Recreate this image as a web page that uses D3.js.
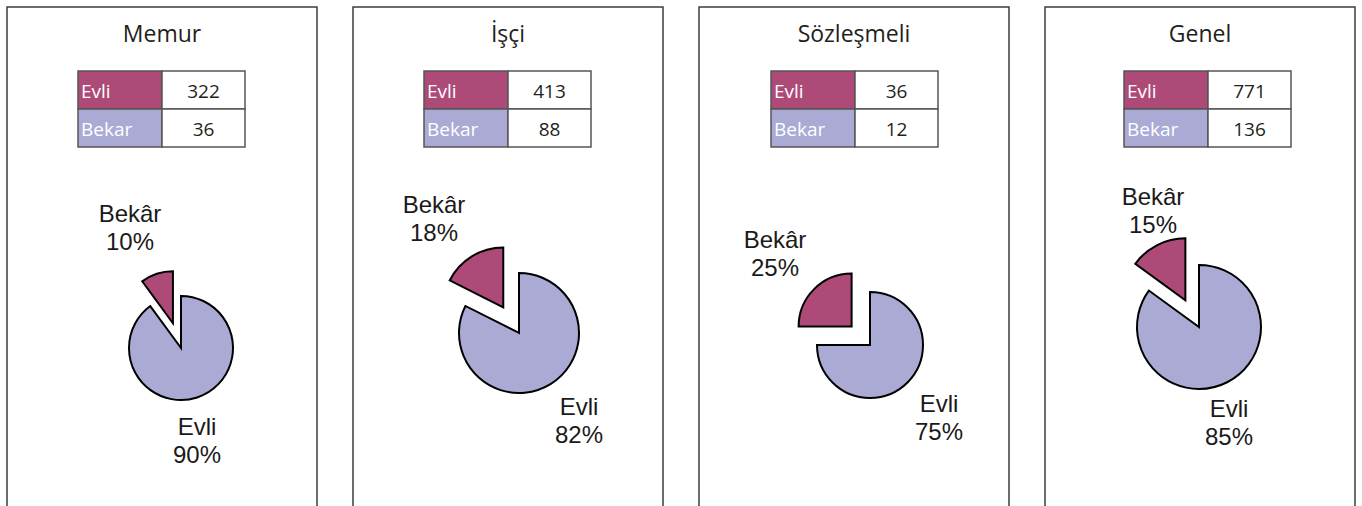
<!DOCTYPE html>
<html>
<head>
<meta charset="utf-8">
<script src="https://cdn.jsdelivr.net/npm/d3@7"></script>
<style>
  body { margin: 0; background: #fff; }
  svg { display: block; }
</style>
</head>
<body>
<svg id="chart" width="1362" height="506"></svg>
<script>
// data
var groups = ["Memur", "İşçi", "Sözleşmeli", "Genel"];
var evli = [322, 413, 36, 771];
var bekar = [36, 88, 12, 136];
var tableLabels = ["Evli", "Bekar"];
var pieLabels = ["Evli", "Bekâr"];

// layout, per panel
var panelX = [7, 353, 699, 1045];
var tableX = [71, 71, 72, 79];
var pieCx = [174, 166, 171, 154];
var pieCy = [348, 333, 345, 327];
var pieR = [52, 60, 53, 62];
var explode = [26, 30, 26, 30];
// label anchors relative to pie centre: [bekar dx, dy, evli dx, dy]
var labelOff = [
  [-51, -126, 16, 87],
  [-85, -120, 60, 82],
  [-95, -97, 69, 67],
  [-46, -122, 30, 90]
];

var colors = { "Evli": "#ad4a78", "Bekar": "#abaad5" };
var sliceColors = ["#abaad5", "#ad4a78"]; // Evli, Bekar in the pie

var svg = d3.select("#chart");
var pie = d3.pie().sort(null).value(function (d) { return d; });

groups.forEach(function (name, i) {
  var g = svg.append("g").attr("transform", "translate(" + panelX[i] + ",0)");

  // panel frame, open at the bottom
  g.append("rect")
    .attr("x", 0).attr("y", 7)
    .attr("width", 310).attr("height", 540)
    .attr("fill", "none")
    .attr("stroke", "#3c3c3c")
    .attr("stroke-width", 1.5);

  g.append("text")
    .attr("x", 155).attr("y", 42)
    .attr("text-anchor", "middle")
    .style("font-family", "'Open Sans', sans-serif")
    .style("font-size", "23px")
    .attr("fill", "#231f20")
    .text(name);

  // small table
  var rows = [evli[i], bekar[i]];
  var tx = tableX[i], ty = 71, cw = 84, rh = 38;
  rows.forEach(function (v, j) {
    var key = tableLabels[j];
    g.append("rect")
      .attr("x", tx).attr("y", ty + j * rh)
      .attr("width", cw).attr("height", rh)
      .attr("fill", colors[key])
      .attr("stroke", "#555").attr("stroke-width", 1.5);
    g.append("rect")
      .attr("x", tx + cw).attr("y", ty + j * rh)
      .attr("width", cw - 1).attr("height", rh)
      .attr("fill", "#fff")
      .attr("stroke", "#555").attr("stroke-width", 1.5);
    g.append("text")
      .attr("x", tx + 3).attr("y", ty + j * rh + 27)
      .style("font-family", "'Open Sans', sans-serif")
      .style("font-size", "19px")
      .attr("fill", "#fff")
      .text(key);
    g.append("text")
      .attr("x", tx + cw + (cw - 1) / 2).attr("y", ty + j * rh + 27)
      .attr("text-anchor", "middle")
      .style("font-family", "'Open Sans', sans-serif")
      .style("font-size", "19px")
      .attr("fill", "#231f20")
      .text(v);
  });

  // pie
  var total = evli[i] + bekar[i];
  var arcs = pie([evli[i], bekar[i]]);
  var arc = d3.arc().innerRadius(0).outerRadius(pieR[i]);
  var pg = g.append("g").attr("transform", "translate(" + pieCx[i] + "," + pieCy[i] + ")");
  pg.selectAll("path")
    .data(arcs)
    .enter()
    .append("path")
    .attr("d", arc)
    .attr("transform", function (d, k) {
      if (k === 0) return null;
      var a = (d.startAngle + d.endAngle) / 2;
      return "translate(" + (Math.sin(a) * explode[i]) + "," + (-Math.cos(a) * explode[i]) + ")";
    })
    .attr("fill", function (d, k) { return sliceColors[k]; })
    .attr("stroke", "#000")
    .attr("stroke-width", 2)
    .attr("stroke-linejoin", "miter");

  // labels
  var lo = labelOff[i];
  var labs = [
    { t: pieLabels[1], p: Math.round(bekar[i] / total * 100), dx: lo[0], dy: lo[1] },
    { t: pieLabels[0], p: Math.round(evli[i] / total * 100), dx: lo[2], dy: lo[3] }
  ];
  labs.forEach(function (l) {
    var t = pg.append("text")
      .attr("text-anchor", "middle")
      .style("font-family", "'Liberation Sans', Arial, sans-serif")
      .style("font-size", "24px")
      .attr("fill", "#1a1a1a");
    t.append("tspan").attr("x", l.dx).attr("y", l.dy).text(l.t);
    t.append("tspan").attr("x", l.dx).attr("y", l.dy + 28).text(l.p + "%");
  });
});
</script>
</body>
</html>
